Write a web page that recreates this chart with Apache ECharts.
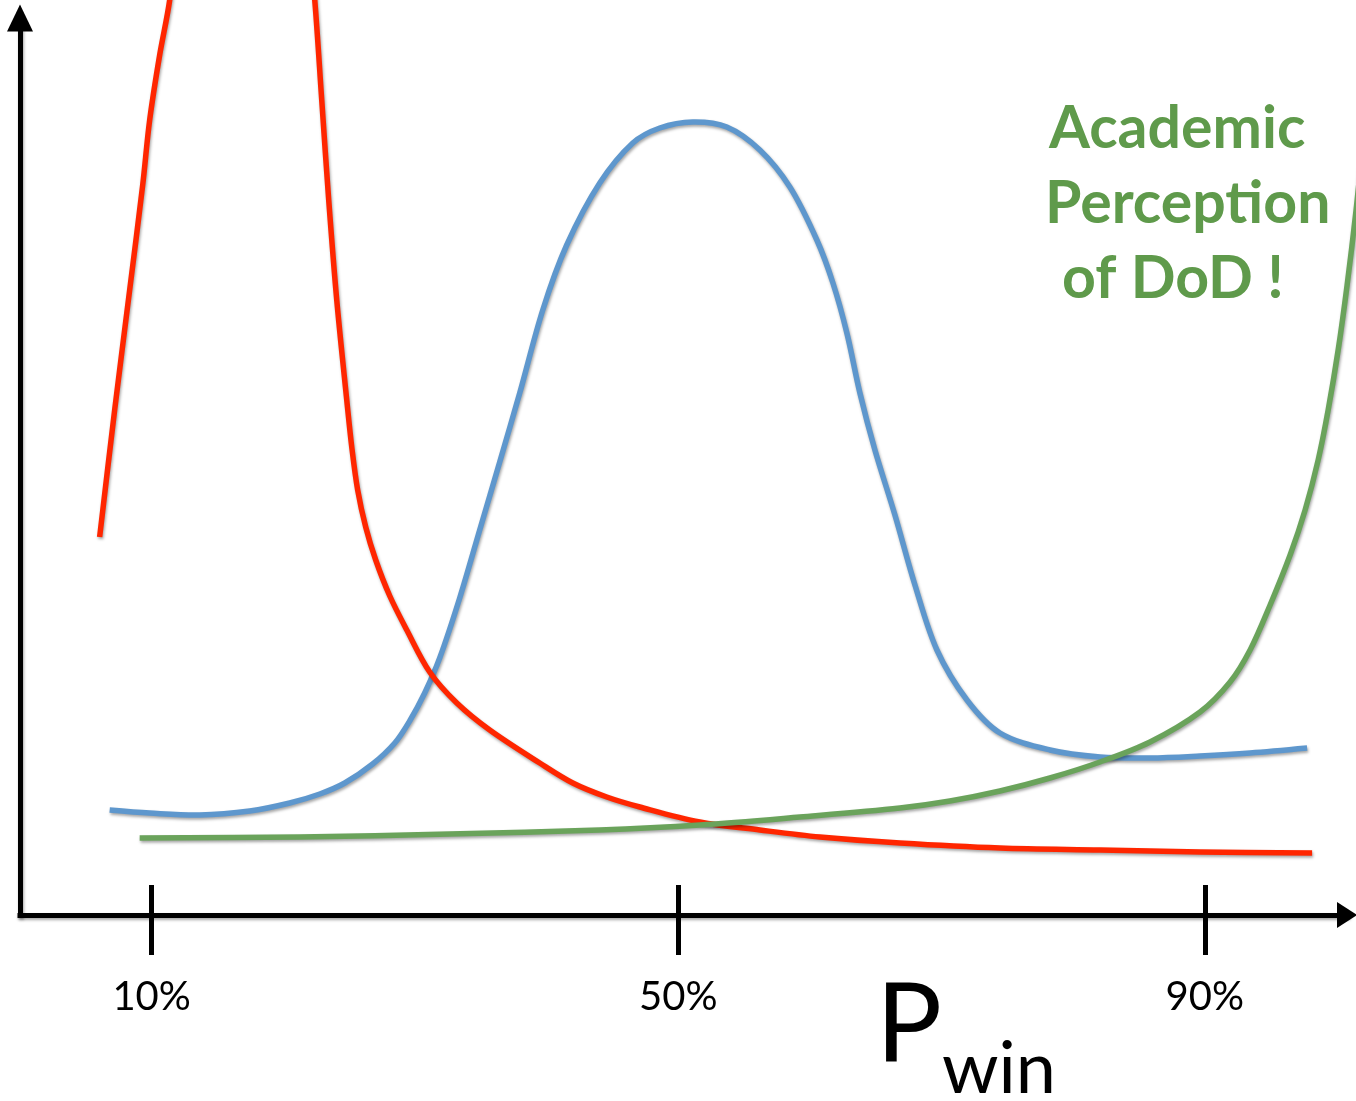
<!DOCTYPE html>
<html>
<head>
<meta charset="utf-8">
<script src="https://cdn.jsdelivr.net/npm/echarts@6/dist/echarts.min.js"></script>
<style>
  html, body { margin: 0; padding: 0; background: #fff; }
  #chart { width: 1356px; height: 1101px; }
</style>
</head>
<body>
<div id="chart"></div>
<script>
// X: P_win in percent; Y: arbitrary height units above the x axis
var xTicks = [10, 50, 90];
var xTickLabels = ['10%', '50%', '90%'];
var xMax = 100.8;
var yMax = 897;

// red curve (goes off the top of the frame between ~11% and ~22%)
var redCurve = [
  [6.05, 378], [7.19, 505], [8.33, 625], [9.32, 730], [9.85, 795], [10.61, 860],
  [11.37, 915], [11.82, 975], [16.84, 1115], [21.93, 975], [22.39, 915],
  [22.92, 815], [23.45, 715], [24.06, 615], [24.82, 515], [25.2, 468],
  [25.65, 425], [26.26, 388], [27.02, 355], [28.09, 319], [29.38, 285],
  [31.12, 243], [33.18, 212], [35.68, 185], [39.48, 152], [41.99, 132],
  [44.57, 118], [47.08, 108], [51.64, 93], [56.2, 85], [60.76, 78],
  [66.84, 72], [74.44, 67], [82.04, 65], [89.64, 63], [98.15, 62]
];

// blue bell-shaped curve
var blueCurve = [
  [6.81, 105], [9.85, 102], [13.65, 100], [17.45, 104], [20.49, 112], [22.77, 121],
  [24.67, 132], [26.79, 151], [28.47, 172], [29.6, 194], [30.74, 222],
  [31.88, 257], [33.4, 317], [34.92, 385], [36.44, 453], [37.96, 522],
  [39.71, 605], [41.53, 670], [44.04, 732], [46.55, 772], [48.6, 787],
  [51.11, 793], [53.69, 788], [56.2, 765], [58.48, 728], [60.53, 675],
  [61.75, 632], [62.81, 582], [63.8, 522], [64.94, 465], [66.46, 400],
  [67.98, 330], [69.65, 265], [71.93, 215], [74.44, 182], [78.24, 165],
  [82.04, 158], [85.84, 157], [89.64, 159], [93.44, 162], [97.77, 167]
];

// green curve ("Academic Perception of DoD")
var greenCurve = [
  [9.09, 77], [21.25, 78], [32.64, 81], [44.04, 85], [51.64, 90], [59.24, 98],
  [66.84, 107], [70.64, 114], [74.44, 124], [78.24, 137], [82.04, 153],
  [85.84, 173], [89.64, 203], [91.92, 233], [93.44, 265], [94.96, 310],
  [96.48, 360], [97.62, 405], [98.61, 455], [99.37, 505], [100.13, 565],
  [100.81, 630], [101.49, 705], [101.95, 765]
];

var annotationLines = ['Academic', 'Perception', 'of DoD !'];
var axisTitleMain = 'P';
var axisTitleSub = 'win';

var shadow = { shadowColor: 'rgba(0,0,0,0.35)', shadowBlur: 3, shadowOffsetX: 1, shadowOffsetY: 2 };

// Smooth curve through the read points, positioned via the chart's own axes (api.coord)
function curveSeries(name, data, color, z) {
  return {
    name: name,
    type: 'custom',
    coordinateSystem: 'cartesian2d',
    xAxisIndex: 0,
    yAxisIndex: 0,
    data: data,
    clip: false,
    silent: true,
    z: z,
    encode: { x: 0, y: 1 },
    renderItem: function (params, api) {
      if (params.dataIndex !== 0) return null;
      var pts = data.map(function (p) { return api.coord(p); });
      return {
        type: 'polyline',
        shape: { points: pts, smooth: 0.33 },
        style: Object.assign({ stroke: color, lineWidth: 5.5, fill: null, lineJoin: 'round' }, shadow)
      };
    }
  };
}

var chart = echarts.init(document.getElementById('chart'), null, { renderer: 'canvas' });

var option = {
  animation: false,
  backgroundColor: '#ffffff',
  grid: { left: 20, right: 9, top: 18, bottom: 186, containLabel: false },
  xAxis: [
    {
      type: 'value', min: 0, max: xMax, position: 'bottom',
      axisLine: {
        show: true, symbol: ['none', 'triangle'], symbolSize: [26, 20],
        lineStyle: Object.assign({ color: '#000', width: 5, cap: 'square' }, shadow)
      },
      axisTick: {
        show: true, inside: false, length: 40, customValues: xTicks,
        lineStyle: { color: '#000', width: 5 }
      },
      axisLabel: {
        show: true, customValues: xTicks, margin: 82, verticalAlign: 'middle',
        fontFamily: 'Lato', fontSize: 40, color: '#000',
        formatter: function (v) { var i = xTicks.indexOf(v); return i >= 0 ? xTickLabels[i] : ''; }
      },
      splitLine: { show: false }
    },
    {
      type: 'value', min: 0, max: xMax, position: 'bottom', offset: 0,
      axisLine: { show: false },
      axisTick: {
        show: true, inside: true, length: 30, customValues: xTicks,
        lineStyle: { color: '#000', width: 5 }
      },
      axisLabel: { show: false },
      splitLine: { show: false }
    }
  ],
  yAxis: {
    type: 'value', min: 0, max: yMax,
    axisLine: {
      show: true, symbol: ['none', 'triangle'], symbolSize: [26, 27],
      lineStyle: Object.assign({ color: '#000', width: 5, cap: 'square' }, shadow)
    },
    axisTick: { show: false },
    axisLabel: { show: false },
    splitLine: { show: false }
  },
  series: [
    curveSeries('blue', blueCurve, '#5E97CD', 2),
    curveSeries('red', redCurve, '#FF2600', 3),
    curveSeries('green', greenCurve, '#6AA35B', 4)
  ],
  graphic: [
    { type: 'text', left: 1049, top: 99, silent: true,
      style: { text: annotationLines[0], font: 'bold 59px Lato', fill: '#5F9A4B' } },
    { type: 'text', left: 1045, top: 174, silent: true,
      style: { text: annotationLines[1], font: 'bold 59px Lato', fill: '#5F9A4B' } },
    { type: 'text', left: 1062, top: 249, silent: true,
      style: { text: annotationLines[2], font: 'bold 59px Lato', fill: '#5F9A4B' } },
    { type: 'text', left: 876, top: 972, silent: true,
      style: { text: axisTitleMain, font: '110px Lato', fill: '#000' } },
    { type: 'text', left: 942, top: 1034, silent: true,
      style: { text: axisTitleSub, font: '72px Lato', fill: '#000' } }
  ]
};

chart.setOption(option);
</script>
</body>
</html>
